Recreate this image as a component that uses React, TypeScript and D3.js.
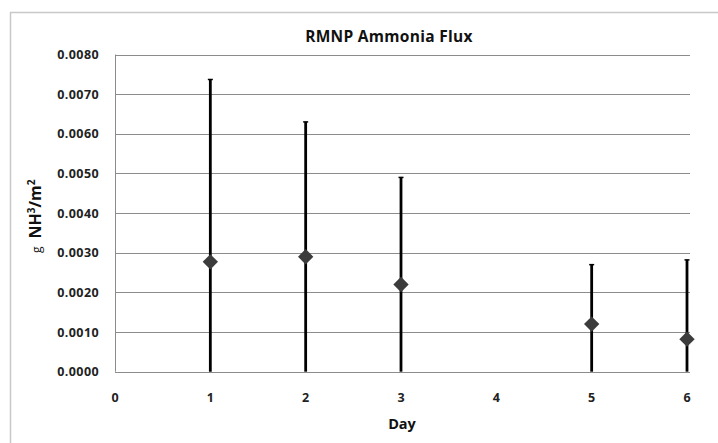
import React from "react";
import * as d3 from "d3";

const days = [1, 2, 3, 5, 6];
const means = [0.00277, 0.0029, 0.0022, 0.0012, 0.00082];
const errors = [0.0046, 0.0034, 0.0027, 0.0015, 0.002];
const yTicks = [0, 0.001, 0.002, 0.003, 0.004, 0.005, 0.006, 0.007, 0.008];
const xTicks = [0, 1, 2, 3, 4, 5, 6];
const title = "RMNP Ammonia Flux";
const xTitle = "Day";

const W = 718, H = 443;
const left = 115, right = 687, top = 54.5, bottom = 371.7;
const font = "'Open Sans', Lato, sans-serif";

export default function App() {
  const x = d3.scaleLinear().domain([0, 6]).range([left, right]);
  const y = d3.scaleLinear().domain([0, 0.008]).range([bottom, top]);
  const diamond = d3.symbol().type(d3.symbolDiamond2).size(150)();
  const clamp = (v: number) => Math.max(0, Math.min(0.008, v));
  return (
    <svg width={W} height={H} style={{ position: "absolute", left: 0, top: 0 }}>
      <rect x={0} y={0} width={W} height={H} fill="#fff" />
      <line x1={10.5} x2={10.5} y1={12} y2={H} stroke="#c8c8c8" strokeWidth={1.5} />
      <line x1={10} x2={W} y1={12.5} y2={12.5} stroke="#c8c8c8" strokeWidth={1.5} />
      <text x={389} y={42} textAnchor="middle" fontFamily={font} fontWeight="bold" fontSize={15.5} letterSpacing={0.3} fill="#111">
        {title}
      </text>
      {yTicks.map((t) => (
        <g key={t}>
          <line x1={left} x2={right + 3} y1={Math.round(y(t)) + 0.5} y2={Math.round(y(t)) + 0.5} stroke="#8c8c8c" strokeWidth={1} />
          <text x={99} y={y(t) + 4.5} textAnchor="end" fontFamily={font} fontWeight="bold" fontSize={12.5} letterSpacing={0.4} fill="#222">
            {t.toFixed(4)}
          </text>
        </g>
      ))}
      <line x1={left + 0.5} x2={left + 0.5} y1={top} y2={bottom} stroke="#8c8c8c" strokeWidth={1} />
      {xTicks.map((t) => (
        <text key={t} x={x(t)} y={401.5} textAnchor="middle" fontFamily={font} fontWeight="bold" fontSize={12.5} fill="#222">
          {t}
        </text>
      ))}
      <text x={x(3) + 1} y={429} textAnchor="middle" fontFamily={font} fontWeight="bold" fontSize={14.5} fill="#111">
        {xTitle}
      </text>
      <text transform={`translate(41, 253) rotate(-90)`} textAnchor="start" fontFamily={font} fontWeight="bold" fontSize={16} fill="#111">
        <tspan fontSize={12} fontWeight="normal">g</tspan>
        <tspan dx={8}>NH</tspan>
        <tspan fontSize={10} dy={-6}>3</tspan>
        <tspan dy={6}>/m</tspan>
        <tspan fontSize={10} dy={-6}>2</tspan>
      </text>
      {days.map((d, i) => {
        const cx = x(d);
        const hi = y(clamp(means[i] + errors[i]));
        const lo = y(clamp(means[i] - errors[i]));
        return (
          <g key={d}>
            <line x1={cx} x2={cx} y1={hi} y2={lo} stroke="#000" strokeWidth={2.8} />
            <line x1={cx - 2.5} x2={cx + 2.5} y1={hi} y2={hi} stroke="#000" strokeWidth={1.5} />
            <path d={diamond || ""} transform={`translate(${cx},${y(means[i])})`} fill="#3c3c3c" />
          </g>
        );
      })}
    </svg>
  );
}
